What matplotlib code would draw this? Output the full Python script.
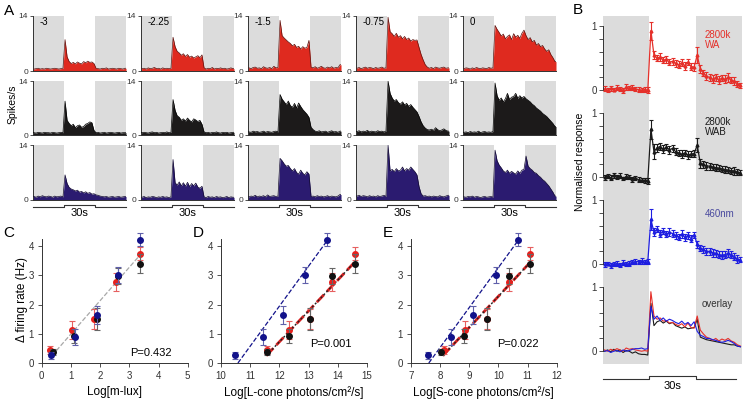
import numpy as np
import matplotlib
matplotlib.use("Agg")
import matplotlib.pyplot as plt

plt.rcParams['font.family'] = ['Liberation Sans', 'DejaVu Sans']

# ---- Panel A: PSTHs (2 s bins, 0-90 s, light step 30-60 s) ----
psth_t = np.arange(1, 90, 2)
intensities = ["-3", "-2.25", "-1.5", "-0.75", "0"]

red_m3 = [0.5, 0.6, 0.7, 0.5, 0.6, 0.5, 0.7, 0.6, 0.5, 0.6, 0.7, 0.6, 0.5, 0.6, 0.7,
          8.0, 3.6, 2.4, 1.9, 2.2, 1.8, 2.3, 2.0, 1.8, 2.4, 2.1, 2.5, 2.2, 2.3, 1.9,
          0.7, 0.6, 0.5, 0.7, 0.6, 0.8, 0.5, 0.6, 0.7, 0.6, 0.5, 0.7, 0.6, 0.5, 0.7]
red_m225 = [0.6, 0.7, 0.5, 0.8, 0.6, 0.7, 0.9, 0.6, 0.7, 0.5, 0.8, 0.6, 0.7, 0.6, 0.7,
            8.6, 6.2, 5.0, 4.6, 4.0, 4.4, 3.7, 4.2, 3.5, 3.8, 3.3, 3.6, 3.9, 3.4, 4.1,
            0.8, 0.5, 0.7, 0.6, 0.9, 0.5, 0.7, 0.6, 0.8, 0.6, 0.7, 0.5, 0.6, 0.8, 0.6]
red_m15 = [0.8, 0.6, 0.9, 1.0, 0.7, 0.8, 0.6, 1.1, 0.8, 0.7, 0.9, 0.6, 1.2, 0.8, 0.9,
           12.9, 9.0, 8.4, 7.9, 7.4, 7.0, 6.4, 6.8, 6.0, 6.3, 5.6, 6.2, 5.8, 6.0, 7.8,
           1.0, 0.8, 1.1, 0.7, 0.9, 1.2, 0.8, 0.7, 1.0, 0.8, 1.1, 0.7, 0.9, 0.8, 1.6]
red_m075 = [0.7, 0.9, 0.6, 0.8, 1.0, 0.7, 0.9, 0.8, 0.6, 0.9, 0.7, 0.8, 1.0, 0.7, 0.8,
            13.7, 10.0, 9.5, 8.8, 9.6, 8.6, 9.0, 8.2, 8.8, 8.0, 8.4, 7.6, 8.0, 7.8, 7.9,
            6.0, 4.2, 2.8, 1.6, 1.0, 0.7, 0.9, 0.6, 1.0, 0.8, 0.7, 0.9, 1.0, 0.7, 0.8]
red_0 = [0.6, 0.8, 0.7, 0.5, 0.8, 0.6, 0.9, 0.7, 0.6, 0.8, 0.7, 0.6, 0.9, 0.7, 0.8,
         11.6, 10.6, 9.8, 8.9, 9.4, 8.2, 8.8, 9.2, 8.0, 9.5, 8.6, 9.1, 8.3, 9.6, 10.4,
         9.0, 8.0, 8.5, 7.4, 7.8, 6.6, 7.0, 6.2, 6.5, 5.6, 5.0, 5.4, 4.2, 3.4, 2.4]

blk_m3 = [0.6, 0.5, 0.7, 0.6, 0.5, 0.7, 0.6, 0.6, 0.5, 0.7, 0.6, 0.5, 0.6, 0.7, 0.6,
          8.8, 3.8, 3.0, 2.4, 2.8, 1.9, 2.4, 2.6, 2.0, 2.2, 2.8, 3.0, 3.4, 3.2, 1.2,
          0.6, 0.7, 0.5, 0.6, 0.7, 0.5, 0.6, 0.7, 0.6, 0.5, 0.6, 0.7, 0.5, 0.6, 0.6]
blk_m225 = [0.6, 0.7, 0.6, 0.5, 0.7, 0.8, 0.6, 0.7, 0.5, 0.6, 0.7, 0.6, 0.8, 0.6, 0.7,
            9.2, 6.4, 5.0, 4.6, 3.8, 4.2, 3.6, 4.4, 3.8, 3.4, 4.2, 3.9, 3.5, 3.8, 2.8,
            0.8, 0.6, 0.7, 0.5, 0.7, 0.6, 0.8, 0.6, 0.5, 0.7, 0.6, 0.7, 0.5, 0.6, 0.7]
blk_m15 = [0.8, 0.7, 1.0, 0.8, 0.9, 0.7, 0.8, 1.0, 0.7, 0.9, 0.8, 0.7, 0.9, 1.0, 0.8,
           10.5, 9.3, 8.6, 7.9, 8.8, 7.6, 7.2, 8.2, 7.0, 8.3, 7.4, 6.6, 6.0, 5.4, 4.6,
           2.0, 1.4, 1.0, 0.9, 1.1, 0.8, 0.9, 1.0, 0.7, 0.9, 1.1, 0.8, 0.9, 0.7, 1.0]
blk_m075 = [0.9, 1.1, 0.8, 1.0, 0.9, 1.2, 0.8, 1.0, 0.9, 0.8, 1.1, 0.9, 1.0, 0.8, 1.0,
            14.0, 10.8, 9.6, 8.8, 9.2, 8.4, 8.0, 8.6, 7.8, 8.2, 7.4, 7.9, 7.2, 6.6, 6.0,
            4.8, 3.4, 2.4, 1.8, 1.4, 1.3, 1.5, 1.2, 1.9, 1.4, 1.1, 1.3, 1.6, 1.2, 1.0]
blk_0 = [0.7, 0.8, 0.6, 0.9, 0.7, 0.8, 0.7, 1.0, 0.6, 0.8, 0.9, 0.7, 0.8, 0.7, 0.9,
         13.5, 10.2, 9.0, 9.6, 8.6, 9.4, 10.8, 9.2, 9.8, 10.0, 10.8, 9.5, 10.2, 9.6, 10.0,
         9.4, 9.0, 8.6, 8.0, 7.6, 7.0, 6.6, 6.2, 5.6, 5.2, 4.8, 4.2, 3.6, 3.0, 2.2]

blu_m3 = [0.9, 0.7, 1.0, 0.8, 1.1, 0.9, 0.8, 1.0, 0.9, 0.7, 1.0, 0.8, 0.9, 1.0, 0.8,
          6.4, 4.2, 3.2, 2.8, 2.6, 2.3, 2.5, 2.0, 2.2, 1.8, 2.1, 1.7, 1.9, 1.5, 1.6,
          1.3, 1.2, 1.0, 0.9, 0.8, 0.9, 0.7, 0.8, 0.9, 0.7, 0.8, 0.9, 0.7, 0.8, 0.9]
blu_m225 = [0.7, 0.9, 0.6, 0.8, 0.7, 0.9, 0.8, 0.6, 0.8, 0.7, 0.9, 0.7, 0.8, 0.6, 0.8,
            10.3, 4.4, 3.8, 4.6, 3.6, 4.4, 3.5, 4.5, 3.4, 4.2, 3.6, 4.3, 3.3, 3.0, 3.5,
            0.8, 0.6, 0.9, 0.7, 0.8, 0.6, 0.9, 0.7, 0.8, 0.6, 0.7, 0.9, 0.6, 0.8, 0.7]
blu_m15 = [0.8, 1.0, 0.9, 1.2, 0.8, 1.0, 0.9, 1.1, 0.8, 1.3, 0.9, 1.0, 1.1, 0.9, 1.0,
           10.6, 10.0, 9.2, 8.6, 8.8, 8.0, 7.4, 8.0, 7.0, 6.6, 7.6, 6.8, 6.4, 7.2, 6.6,
           0.9, 1.0, 0.8, 1.1, 0.9, 1.0, 0.8, 0.9, 1.1, 0.8, 1.0, 0.9, 0.8, 1.0, 1.4]
blu_m075 = [1.0, 1.2, 0.9, 1.1, 1.0, 0.8, 1.1, 0.9, 1.0, 0.8, 1.1, 0.9, 1.0, 1.2, 0.9,
            14.0, 7.4, 7.8, 7.2, 8.0, 7.4, 7.6, 8.4, 7.4, 8.0, 7.6, 8.4, 7.8, 7.2, 6.4,
            3.4, 1.6, 1.0, 1.1, 0.9, 1.0, 0.8, 1.0, 0.9, 0.8, 1.1, 0.9, 0.8, 1.0, 1.2]
blu_0 = [0.8, 0.7, 0.9, 0.8, 1.0, 0.7, 0.9, 0.8, 0.6, 0.8, 0.9, 0.7, 0.8, 0.9, 0.7,
         12.7, 10.0, 8.9, 8.2, 7.4, 7.0, 7.6, 6.8, 7.3, 6.9, 6.6, 7.4, 6.8, 7.6, 7.8,
         11.2, 8.6, 8.0, 7.6, 7.0, 6.8, 6.2, 5.8, 5.2, 4.8, 4.2, 3.6, 2.8, 2.0, 1.0]

# ---- Panel B: normalised population responses ----
b_red = [0.02, 0.0, 0.03, 0.01, 0.04, 0.02, 0.0, 0.05, 0.03, 0.04, 0.02, 0.01, 0.0, 0.01, 0.0,
         0.93, 0.55, 0.50, 0.52, 0.47, 0.48, 0.44, 0.45, 0.42, 0.40, 0.43, 0.38, 0.44, 0.37, 0.36,
         0.55, 0.33, 0.27, 0.22, 0.20, 0.17, 0.20, 0.16, 0.19, 0.17, 0.20, 0.16, 0.14, 0.10, 0.08]
b_red_err = [0.04, 0.03, 0.04, 0.03, 0.04, 0.03, 0.04, 0.04, 0.03, 0.04, 0.03, 0.04, 0.03, 0.04, 0.05,
             0.14, 0.06, 0.05, 0.06, 0.05, 0.06, 0.05, 0.06, 0.05, 0.06, 0.05, 0.06, 0.05, 0.06, 0.06,
             0.12, 0.06, 0.05, 0.06, 0.05, 0.06, 0.05, 0.06, 0.05, 0.06, 0.07, 0.05, 0.06, 0.05, 0.04]
b_blk = [0.0, 0.02, -0.01, 0.03, 0.0, 0.02, -0.02, 0.01, 0.0, -0.03, -0.01, -0.04, -0.05, -0.05, -0.06,
         0.75, 0.40, 0.46, 0.48, 0.44, 0.47, 0.43, 0.45, 0.40, 0.38, 0.36, 0.38, 0.35, 0.36, 0.37,
         0.50, 0.22, 0.20, 0.18, 0.17, 0.16, 0.15, 0.14, 0.13, 0.12, 0.11, 0.10, 0.10, 0.08, 0.07]
b_blk_err = [0.04, 0.03, 0.04, 0.04, 0.03, 0.04, 0.03, 0.04, 0.03, 0.04, 0.03, 0.04, 0.03, 0.04, 0.04,
             0.15, 0.12, 0.06, 0.05, 0.06, 0.05, 0.06, 0.05, 0.06, 0.05, 0.06, 0.05, 0.06, 0.05, 0.06,
             0.11, 0.07, 0.05, 0.06, 0.05, 0.05, 0.06, 0.05, 0.05, 0.06, 0.05, 0.05, 0.06, 0.05, 0.04]
b_blu = [0.0, 0.01, -0.02, 0.0, 0.01, -0.01, 0.02, 0.0, 0.01, 0.03, 0.04, 0.04, 0.05, 0.03, 0.04,
         0.70, 0.50, 0.55, 0.48, 0.52, 0.47, 0.50, 0.48, 0.45, 0.43, 0.47, 0.42, 0.45, 0.40, 0.46,
         0.31, 0.25, 0.23, 0.20, 0.20, 0.18, 0.17, 0.15, 0.14, 0.15, 0.17, 0.15, 0.12, 0.08, 0.07]
b_blu_err = [0.04, 0.03, 0.04, 0.03, 0.04, 0.03, 0.04, 0.03, 0.04, 0.03, 0.04, 0.03, 0.04, 0.03, 0.04,
             0.16, 0.06, 0.05, 0.06, 0.05, 0.05, 0.06, 0.05, 0.06, 0.05, 0.06, 0.05, 0.06, 0.05, 0.05,
             0.06, 0.05, 0.06, 0.05, 0.05, 0.06, 0.05, 0.05, 0.06, 0.05, 0.06, 0.05, 0.05, 0.06, 0.04]

# ---- Panels C-E: response amplitude vs irradiance ----
resp_red = [0.45, 1.13, 1.50, 2.78, 3.75]
resp_red_err = [0.13, 0.30, 0.35, 0.32, 0.22]
resp_blk = [0.38, 0.93, 1.52, 2.98, 3.40]
resp_blk_err = [0.10, 0.25, 0.38, 0.28, 0.33]
resp_blu = [0.27, 0.90, 1.65, 3.02, 4.22]
resp_blu_err = [0.12, 0.27, 0.30, 0.28, 0.22]

mlux_red = [0.28, 1.03, 1.80, 2.56, 3.35]
mlux_blk = [0.37, 1.10, 1.88, 2.62, 3.38]
mlux_blu = [0.33, 1.14, 1.88, 2.62, 3.38]
lcone_wa = [11.56, 12.33, 13.06, 13.80, 14.58]
lcone_blu = [10.48, 11.43, 12.11, 12.87, 13.64]
scone_red = [8.14, 8.86, 9.60, 10.35, 11.10]
scone_blk = [8.05, 8.82, 9.60, 10.37, 11.10]
scone_blu = [7.58, 8.38, 9.12, 9.91, 10.68]

# fitted lines (x0, y0, x1, y1)
fit_c = (0.35, 0.25, 3.35, 3.68)
fit_d_blu = (10.58, 0.0, 13.64, 4.2)
fit_d_wa = (11.55, 0.25, 14.6, 3.48)
fit_e_blu = (7.62, 0.0, 10.68, 4.2)
fit_e_wa = (8.1, 0.25, 11.12, 3.48)

W, H = 748, 400
fig = plt.figure(figsize=(W / 100, H / 100), dpi=100)


def add_ax(x0, y0, x1, y1):
    # axes placed in pixel coordinates (origin top left)
    return fig.add_axes([x0 / W, 1 - y1 / H, (x1 - x0) / W, (y1 - y0) / H])


shade = "#dcdcdc"
axis_col = "#333333"

# ---- A ----
rows = [
    ([red_m3, red_m225, red_m15, red_m075, red_0], "#df2a1f", "#5a1410"),
    ([blk_m3, blk_m225, blk_m15, blk_m075, blk_0], "#1c1a1a", "#000000"),
    ([blu_m3, blu_m225, blu_m15, blu_m075, blu_0], "#2b1b70", "#120a30"),
]
col_x = [33, 141, 248, 356, 463]
row_y = [(16, 71), (81, 135), (145, 200)]

for r, (traces, fc, ec) in enumerate(rows):
    for c, vals in enumerate(traces):
        ax = add_ax(col_x[c], row_y[r][0], col_x[c] + 93, row_y[r][1])
        ax.axvspan(0, 30, color=shade, lw=0, zorder=0)
        ax.axvspan(60, 90, color=shade, lw=0, zorder=0)
        x = np.concatenate([[0], psth_t, [90]])
        y = [vals[0]] + vals + [vals[-1]]
        ax.fill_between(x, 0, y, color=fc, lw=0, zorder=2)
        ax.plot(x, y, color=ec, lw=0.5, zorder=3)
        ax.set_xlim(0, 90)
        ax.set_ylim(0, 14)
        ax.set_yticks([0, 14])
        ax.set_xticks([])
        for s in ["top", "right"]:
            ax.spines[s].set_visible(False)
        for s in ["left", "bottom"]:
            ax.spines[s].set_linewidth(0.7)
            ax.spines[s].set_color(axis_col)
        ax.tick_params(axis="y", length=2.5, width=0.6, labelsize=6, pad=1,
                       colors=axis_col)
        if r == 0:
            ax.text(6, 12.5, intensities[c], fontsize=7, va="center", ha="left")
        if r == 2:
            tr = ax.get_xaxis_transform()
            ax.plot([0, 30, 30, 60, 60, 90], [-0.122, -0.122, -0.085, -0.085, -0.122, -0.122],
                    transform=tr, clip_on=False, color=axis_col, lw=0.8)
            ax.text(45, -0.23, "30s", transform=tr, ha="center", va="center", fontsize=8)

fig.text(13 / W, 1 - 104 / H, "Spikes/s", rotation=90, ha="center", va="center", fontsize=7.5)

# ---- B ----
b_t = np.arange(1, 90, 2)
b_traces = [
    (b_red, b_red_err, "#e5302a", "2800k\nWA", "#e5302a"),
    (b_blk, b_blk_err, "#1a1a1a", "2800k\nWAB", "#1a1a1a"),
    (b_blu, b_blu_err, "#1e1ee0", "460nm", "#4a4a9e"),
]
b_top = 16
for i in range(4):
    ax = add_ax(603, b_top + 87 * i, 742, b_top + 87 * (i + 1))
    ax.axvspan(0, 30, color=shade, lw=0, zorder=0)
    ax.axvspan(60, 90, color=shade, lw=0, zorder=0)
    if i < 3:
        vals, err, col, lab, lab_col = b_traces[i]
        ax.errorbar(b_t, vals, yerr=err, color=col, lw=0.9, elinewidth=0.8,
                    capsize=1.6, capthick=0.8, marker="^", ms=2, zorder=3)
        ax.text(66, 0.78, lab, color=lab_col, fontsize=7, ha="left", va="center",
                linespacing=1.0)
    else:
        ax.plot(b_t, b_blk, color="#1a1a1a", lw=0.8, zorder=3)
        ax.plot(b_t, b_red, color="#e5302a", lw=0.8, zorder=3)
        ax.plot(b_t, b_blu, color="#1e1ee0", lw=0.8, zorder=3)
        ax.text(64, 0.74, "overlay", color="#333333", fontsize=7, ha="left", va="center")
        tr = ax.get_xaxis_transform()
        ax.plot([0, 30, 30, 60, 60, 86], [-0.178, -0.178, -0.138, -0.138, -0.178, -0.178],
                transform=tr, clip_on=False, color=axis_col, lw=0.8)
        ax.text(45, -0.25, "30s", transform=tr, ha="center", va="center", fontsize=8)
    ax.set_xlim(0, 90)
    ax.set_ylim(-0.2, 1.16)
    ax.set_xticks([])
    ax.set_yticks([0, 0.2, 0.4, 0.6, 0.8, 1.0])
    ax.set_yticklabels(["0", "", "", "", "", "1"])
    for s in ["top", "right", "bottom"]:
        ax.spines[s].set_visible(False)
    ax.spines["left"].set_bounds(0, 1)
    ax.spines["left"].set_linewidth(0.7)
    ax.spines["left"].set_color(axis_col)
    ax.tick_params(axis="y", length=3, width=0.6, labelsize=7, pad=1.5, colors=axis_col)

fig.text(580 / W, 1 - 162 / H, "Normalised response", rotation=90, ha="center",
         va="center", fontsize=7.5)

# ---- C, D, E ----
red_dot, blk_dot, blu_dot = "#e8201c", "#111111", "#12128a"
red_eb, blk_eb, blu_eb = "#e66060", "#666666", "#6060aa"


def resp_axes(x0, xmin, xlabel, pval, pval_x, pval_y):
    ax = add_ax(x0, 239, x0 + 146, 363)
    ax.set_xlim(xmin, xmin + 5)
    ax.set_ylim(0, 4.25)
    ax.set_xticks(np.arange(xmin, xmin + 6))
    ax.set_yticks([0, 1, 2, 3, 4])
    for s in ["top", "right"]:
        ax.spines[s].set_visible(False)
    for s in ["left", "bottom"]:
        ax.spines[s].set_linewidth(0.7)
        ax.spines[s].set_color(axis_col)
    ax.tick_params(length=3, width=0.6, labelsize=7, pad=2.5, colors=axis_col)
    ax.set_xlabel(xlabel, fontsize=8.5, labelpad=4)
    ax.text(pval_x, pval_y, pval, fontsize=8, ha="left", va="center")
    return ax


def points(ax, x, y, err, col, ecol, z):
    ax.errorbar(x, y, yerr=err, fmt="o", ms=4, color=col, ecolor=ecol,
                elinewidth=0.8, capsize=2, capthick=0.8, zorder=z, clip_on=False)


ax_c = resp_axes(41.7, 0, "Log[m-lux]", "P=0.432", 3.02, 0.34)
ax_c.plot(fit_c[::2], fit_c[1::2], ls="--", color="#a8a8a8", lw=0.9, zorder=2)
points(ax_c, mlux_red, resp_red, resp_red_err, red_dot, red_eb, 4)
points(ax_c, mlux_blk, resp_blk, resp_blk_err, blk_dot, blk_eb, 5)
points(ax_c, mlux_blu, resp_blu, resp_blu_err, blu_dot, blu_eb, 6)

ax_d = resp_axes(221, 10, "Log[L-cone photons/cm²/s]", "P=0.001", 13.05, 0.65)
ax_d.plot(fit_d_blu[::2], fit_d_blu[1::2], ls="--", color=blu_dot, lw=0.9, zorder=2)
ax_d.plot(fit_d_wa[::2], fit_d_wa[1::2], ls="--", color="#d82020", lw=2.0, zorder=2)
ax_d.plot(fit_d_wa[::2], fit_d_wa[1::2], ls=(0, (1.5, 1.5)), color="#222222", lw=1.0, zorder=3)
points(ax_d, lcone_wa, resp_red, resp_red_err, red_dot, red_eb, 4)
points(ax_d, lcone_wa, resp_blk, resp_blk_err, blk_dot, blk_eb, 5)
points(ax_d, lcone_blu, resp_blu, resp_blu_err, blu_dot, blu_eb, 6)

ax_e = resp_axes(410.7, 7, "Log[S-cone photons/cm²/s]", "P=0.022", 9.96, 0.65)
ax_e.plot(fit_e_blu[::2], fit_e_blu[1::2], ls="--", color=blu_dot, lw=0.9, zorder=2)
ax_e.plot(fit_e_wa[::2], fit_e_wa[1::2], ls="--", color="#d82020", lw=2.0, zorder=2)
ax_e.plot(fit_e_wa[::2], fit_e_wa[1::2], ls=(0, (1.5, 1.5)), color="#222222", lw=1.0, zorder=3)
points(ax_e, scone_red, resp_red, resp_red_err, red_dot, red_eb, 4)
points(ax_e, scone_blk, resp_blk, resp_blk_err, blk_dot, blk_eb, 5)
points(ax_e, scone_blu, resp_blu, resp_blu_err, blu_dot, blu_eb, 6)

fig.text(22 / W, 1 - 299 / H, "Δ firing rate (Hz)", rotation=90, ha="center",
         va="center", fontsize=8.5)

# panel letters
for letter, px, py in [("A", 9, 11), ("B", 578, 10), ("C", 9, 233), ("D", 198, 233), ("E", 388, 233)]:
    fig.text(px / W, 1 - py / H, letter, fontsize=11, ha="center", va="center")

fig.savefig("out.png", dpi=100)
